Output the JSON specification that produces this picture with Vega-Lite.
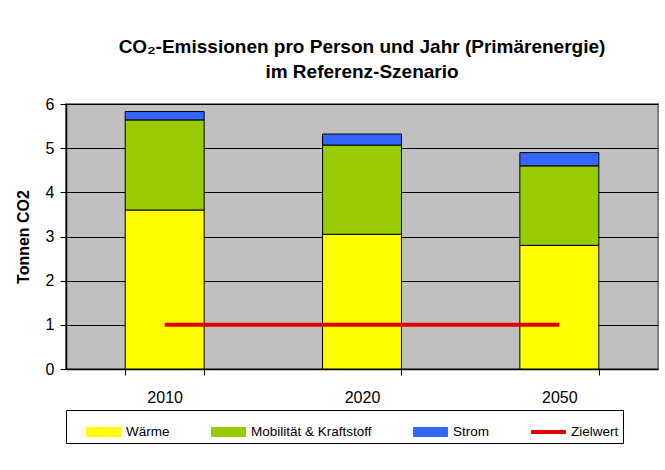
{
  "$schema": "https://vega.github.io/schema/vega-lite/v6.json",
  "width": 592,
  "height": 265,
  "autosize": {"type": "none"},
  "padding": {"left": 66, "top": 104, "right": 7, "bottom": 101},
  "background": "white",
  "datasets": {
    "bars": [
      {"year": "2010", "category": "Wärme", "value": 3.6},
      {"year": "2010", "category": "Mobilität & Kraftstoff", "value": 2.04},
      {"year": "2010", "category": "Strom", "value": 0.19},
      {"year": "2020", "category": "Wärme", "value": 3.05},
      {"year": "2020", "category": "Mobilität & Kraftstoff", "value": 2.02},
      {"year": "2020", "category": "Strom", "value": 0.25},
      {"year": "2050", "category": "Wärme", "value": 2.8},
      {"year": "2050", "category": "Mobilität & Kraftstoff", "value": 1.8},
      {"year": "2050", "category": "Strom", "value": 0.3}
    ],
    "target": [
      {"year": "2010", "series": "Zielwert", "value": 1},
      {"year": "2020", "series": "Zielwert", "value": 1},
      {"year": "2050", "series": "Zielwert", "value": 1}
    ]
  },
  "title": {
    "text": ["CO₂-Emissionen pro Person und Jahr (Primärenergie)", "im Referenz-Szenario"],
    "font": "Liberation Sans",
    "fontSize": 19,
    "fontWeight": "bold",
    "anchor": "middle",
    "frame": "group",
    "offset": 14,
    "lineHeight": 25,
    "color": "black"
  },
  "config": {
    "font": "Liberation Sans",
    "view": {"fill": "#C0C0C0", "stroke": "#808080", "strokeWidth": 2}
  },
  "layer": [
    {
      "data": {"name": "bars"},
      "transform": [
        {"calculate": "indexof(['Wärme', 'Mobilität & Kraftstoff', 'Strom'], datum.category)", "as": "stackOrder"}
      ],
      "mark": {"type": "bar", "stroke": "black", "strokeWidth": 1, "opacity": 1},
      "encoding": {
        "x": {
          "field": "year",
          "type": "nominal",
          "sort": ["2010", "2020", "2050"],
          "scale": {"paddingInner": 0.6, "paddingOuter": 0.3},
          "axis": {
            "title": null,
            "labelAngle": 0,
            "labelFontSize": 16,
            "labelColor": "black",
            "labelPadding": 14,
            "domainColor": "black",
            "domainWidth": 1.5,
            "tickColor": "black",
            "tickSize": 6,
            "tickBand": "extent",
            "grid": false
          }
        },
        "y": {
          "field": "value",
          "type": "quantitative",
          "stack": "zero",
          "scale": {"domain": [0, 6], "nice": false},
          "axis": {
            "title": "Tonnen CO2",
            "titleFontSize": 16,
            "titleFontWeight": "bold",
            "titleColor": "black",
            "titlePadding": 14,
            "values": [0, 1, 2, 3, 4, 5, 6],
            "labelFontSize": 16,
            "labelColor": "black",
            "labelPadding": 6,
            "domainColor": "black",
            "domainWidth": 1.5,
            "tickColor": "black",
            "tickSize": 6,
            "grid": true,
            "gridColor": "black",
            "gridWidth": 1,
            "gridOpacity": 1
          }
        },
        "order": {"field": "stackOrder", "type": "quantitative"},
        "color": {
          "field": "category",
          "type": "nominal",
          "scale": {
            "domain": ["Wärme", "Mobilität & Kraftstoff", "Strom", "Zielwert"],
            "range": ["#FFFF00", "#99CC00", "#3366FF", "#E00000"]
          },
          "legend": {
            "title": null,
            "orient": "none",
            "legendX": 0,
            "legendY": 306,
            "direction": "horizontal",
            "columns": 4,
            "columnPadding": 25,
            "padding": 4,
            "strokeColor": "black",
            "fillColor": "white",
            "symbolSize": 1156,
            "symbolOffset": 16,
            "symbolType": "M-1,-0.265H1V0.265H-1Z",
            "symbolStrokeColor": "black",
            "symbolStrokeWidth": 1,
            "symbolOpacity": 1,
            "labelFontSize": 13.5,
            "labelColor": "black",
            "labelOffset": 5,
            "encode": {
              "symbols": {
                "update": {
                  "shape": {"signal": "datum.value === 'Zielwert' ? 'M-1,-0.09H1V0.09H-1Z' : 'M-1,-0.265H1V0.265H-1Z'"},
                  "stroke": {"signal": "datum.value === 'Zielwert' ? '#E00000' : 'black'"}
                }
              }
            }
          }
        }
      }
    },
    {
      "data": {"name": "target"},
      "mark": {"type": "line", "strokeWidth": 4, "strokeCap": "butt"},
      "encoding": {
        "x": {"field": "year", "type": "nominal", "sort": ["2010", "2020", "2050"]},
        "y": {"field": "value", "type": "quantitative"},
        "color": {"field": "series", "type": "nominal"}
      }
    }
  ]
}
